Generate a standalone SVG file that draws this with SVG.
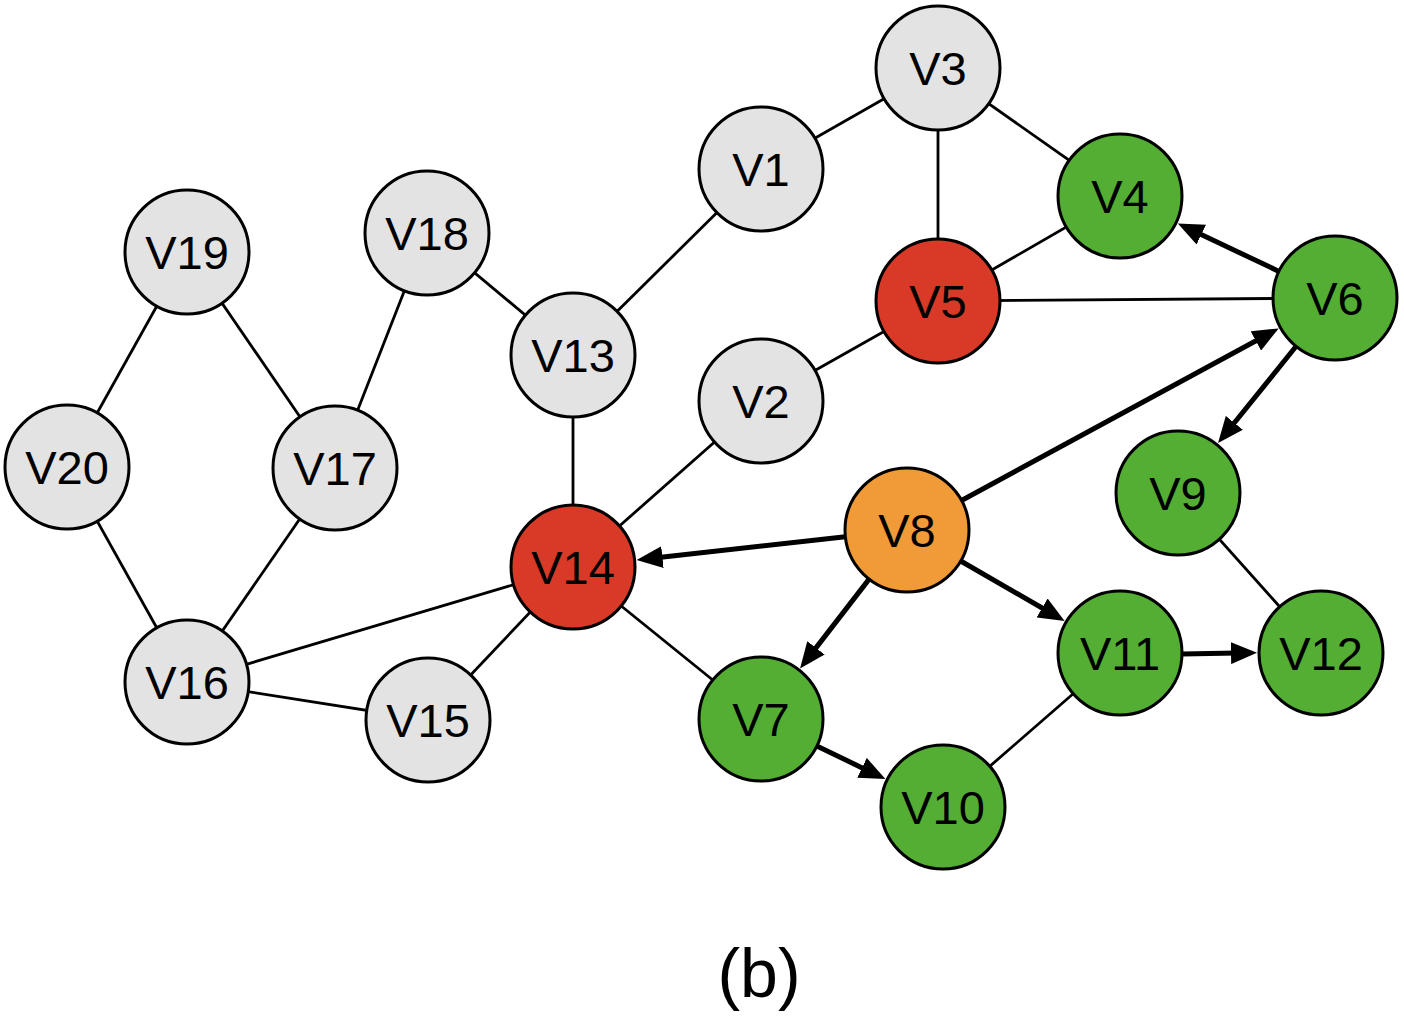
<svg xmlns="http://www.w3.org/2000/svg" width="1404" height="1024" viewBox="0 0 1404 1024">
<style>
.n circle{stroke:#000;stroke-width:3}
.g{fill:#e3e3e3}.r{fill:#d93a28}.gr{fill:#54ae33}.o{fill:#f09b37}
.n text{font-family:"Liberation Sans",Arial,sans-serif;font-size:47px;text-anchor:middle;fill:#000}
.e line{stroke:#000;stroke-width:2.8}
.a line{stroke:#000;stroke-width:5}
.lbl{font-family:"Liberation Sans",Arial,sans-serif;font-size:68px;text-anchor:middle;fill:#000}
</style>
<defs>
<marker id="ah" markerUnits="userSpaceOnUse" markerWidth="26" markerHeight="22" viewBox="0 0 26 22" refX="6" refY="11" orient="auto">
<path d="M0,0 L26,11 L0,22 z" fill="#000"/>
</marker>
</defs>
<rect width="1404" height="1024" fill="#fff"/>
<g id="connectors">
<g class="e">
<line x1="938" y1="68" x2="761" y2="169"/>
<line x1="938" y1="68" x2="938" y2="301"/>
<line x1="938" y1="68" x2="1120" y2="196"/>
<line x1="1120" y1="196" x2="938" y2="301"/>
<line x1="938" y1="301" x2="1335" y2="298"/>
<line x1="938" y1="301" x2="761" y2="401"/>
<line x1="761" y1="169" x2="573" y2="355"/>
<line x1="427" y1="233" x2="573" y2="355"/>
<line x1="573" y1="355" x2="573" y2="567"/>
<line x1="761" y1="401" x2="573" y2="567"/>
<line x1="427" y1="233" x2="335" y2="468"/>
<line x1="187" y1="252" x2="335" y2="468"/>
<line x1="187" y1="252" x2="67" y2="467"/>
<line x1="67" y1="467" x2="187" y2="682"/>
<line x1="335" y1="468" x2="187" y2="682"/>
<line x1="187" y1="682" x2="573" y2="567"/>
<line x1="187" y1="682" x2="428" y2="720"/>
<line x1="428" y1="720" x2="573" y2="567"/>
<line x1="573" y1="567" x2="761" y2="719"/>
<line x1="1178" y1="493" x2="1321" y2="653"/>
<line x1="943" y1="807" x2="1120" y2="653"/>
</g>
<g class="a">
<line x1="1279" y1="271.4" x2="1195.9" y2="232" marker-end="url(#ah)"/>
<line x1="961.5" y1="500.5" x2="1261.1" y2="338" marker-end="url(#ah)"/>
<line x1="1296.1" y1="346.3" x2="1230.6" y2="427.5" marker-end="url(#ah)"/>
<line x1="845.4" y1="536.8" x2="656.5" y2="557.8" marker-end="url(#ah)"/>
<line x1="869.1" y1="579.1" x2="812.3" y2="652.6" marker-end="url(#ah)"/>
<line x1="960.7" y1="561" x2="1047.3" y2="611" marker-end="url(#ah)"/>
<line x1="816.8" y1="746" x2="867.4" y2="770.4" marker-end="url(#ah)"/>
<line x1="1182" y1="654" x2="1237" y2="653" marker-end="url(#ah)"/>
</g>
</g>
<g id="V3" class="n"><circle class="g" cx="938" cy="68" r="62"/><text x="938" y="85">V3</text></g>
<g id="V1" class="n"><circle class="g" cx="761" cy="169" r="62"/><text x="761" y="186">V1</text></g>
<g id="V4" class="n"><circle class="gr" cx="1120" cy="196" r="62"/><text x="1120" y="213">V4</text></g>
<g id="V5" class="n"><circle class="r" cx="938" cy="301" r="62"/><text x="938" y="318">V5</text></g>
<g id="V6" class="n"><circle class="gr" cx="1335" cy="298" r="62"/><text x="1335" y="315">V6</text></g>
<g id="V19" class="n"><circle class="g" cx="187" cy="252" r="62"/><text x="187" y="269">V19</text></g>
<g id="V18" class="n"><circle class="g" cx="427" cy="233" r="62"/><text x="427" y="250">V18</text></g>
<g id="V13" class="n"><circle class="g" cx="573" cy="355" r="62"/><text x="573" y="372">V13</text></g>
<g id="V2" class="n"><circle class="g" cx="761" cy="401" r="62"/><text x="761" y="418">V2</text></g>
<g id="V20" class="n"><circle class="g" cx="67" cy="467" r="62"/><text x="67" y="484">V20</text></g>
<g id="V17" class="n"><circle class="g" cx="335" cy="468" r="62"/><text x="335" y="485">V17</text></g>
<g id="V14" class="n"><circle class="r" cx="573" cy="567" r="62"/><text x="573" y="584">V14</text></g>
<g id="V8" class="n"><circle class="o" cx="907" cy="530" r="62"/><text x="907" y="547">V8</text></g>
<g id="V9" class="n"><circle class="gr" cx="1178" cy="493" r="62"/><text x="1178" y="510">V9</text></g>
<g id="V16" class="n"><circle class="g" cx="187" cy="682" r="62"/><text x="187" y="699">V16</text></g>
<g id="V15" class="n"><circle class="g" cx="428" cy="720" r="62"/><text x="428" y="737">V15</text></g>
<g id="V7" class="n"><circle class="gr" cx="761" cy="719" r="62"/><text x="761" y="736">V7</text></g>
<g id="V11" class="n"><circle class="gr" cx="1120" cy="653" r="62"/><text x="1120" y="670">V11</text></g>
<g id="V12" class="n"><circle class="gr" cx="1321" cy="653" r="62"/><text x="1321" y="670">V12</text></g>
<g id="V10" class="n"><circle class="gr" cx="943" cy="807" r="62"/><text x="943" y="824">V10</text></g>
<text class="lbl" x="759" y="997">(b)</text>
</svg>
